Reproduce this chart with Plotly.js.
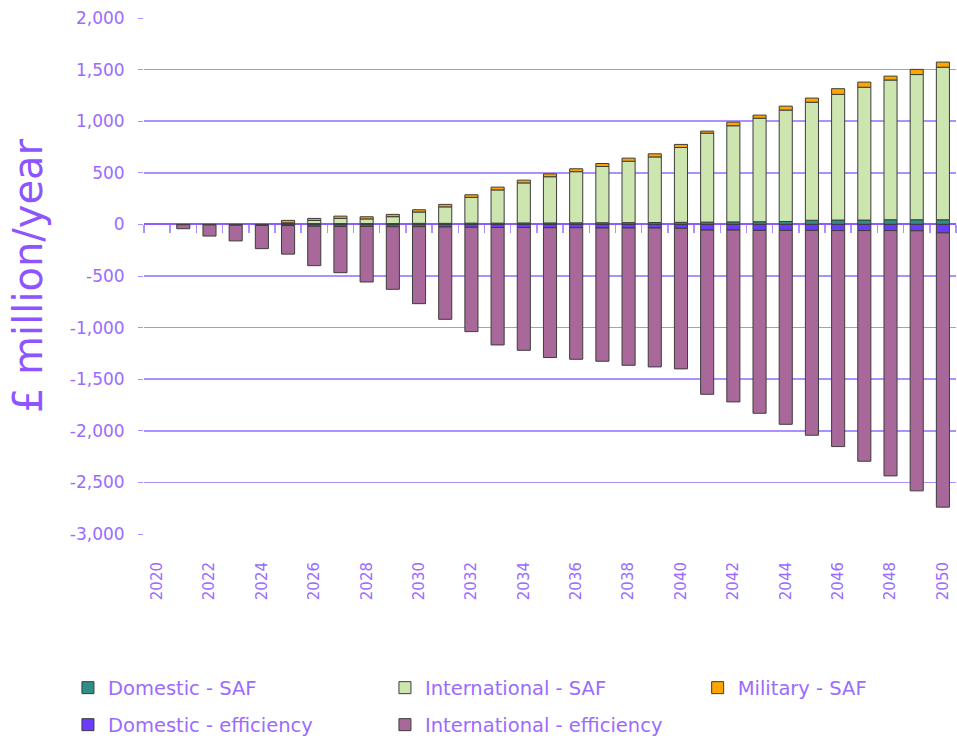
<!DOCTYPE html>
<html>
<head>
<meta charset="utf-8">
<script src="https://cdn.plot.ly/plotly-3.0.1.min.js"></script>
<style>html,body{margin:0;padding:0;background:#fff;}#chart{width:957px;height:740px;}</style>
</head>
<body>
<div id="chart"></div>
<script>
const years = [2020,2021,2022,2023,2024,2025,2026,2027,2028,2029,2030,2031,2032,2033,2034,2035,2036,2037,2038,2039,2040,2041,2042,2043,2044,2045,2046,2047,2048,2049,2050];
const domesticSAF = [null,null,null,null,null,10,8,8,8,8,10,10,12,12,14,14,15,16,17,18,20,22,24,26,28,40,42,42,45,45,45];
const internationalSAF = [null,null,null,null,null,5,30,50,45,67,110,160,250,322,388,448,496,545,595,636,725,862,932,1003,1080,1144,1218,1287,1354,1407,1478];
const militarySAF = [null,null,null,null,null,24,20,22,21,22,22,24,25,27,27,28,28,29,30,30,30,20,35,30,38,40,55,50,38,50,50];
const domesticEff = [null,-3,-5,-8,-10,-12,-18,-20,-20,-22,-22,-25,-28,-30,-30,-32,-32,-35,-35,-35,-38,-55,-55,-58,-58,-58,-60,-60,-60,-62,-82];
const internationalEff = [null,-39,-108,-152,-225,-276,-382,-448,-538,-607,-746,-895,-1011,-1138,-1190,-1258,-1275,-1291,-1330,-1346,-1362,-1591,-1665,-1772,-1879,-1985,-2093,-2235,-2377,-2520,-2658];
const seriesNames = ["Domestic - SAF","International - SAF","Military - SAF","Domestic - efficiency","International - efficiency"];
const xTickVals = [2020,2022,2024,2026,2028,2030,2032,2034,2036,2038,2040,2042,2044,2046,2048,2050];
const yTickVals = [-3000,-2500,-2000,-1500,-1000,-500,0,500,1000,1500,2000];
const yTickText = ["-3,000","-2,500","-2,000","-1,500","-1,000","-500","0","500","1,000","1,500","2,000"];
const boundaryTicks = [2019.5,2020.5,2021.5,2022.5,2023.5,2024.5,2025.5,2026.5,2027.5,2028.5,2029.5,2030.5,2031.5,2032.5,2033.5,2034.5,2035.5,2036.5,2037.5,2038.5,2039.5,2040.5,2041.5,2042.5,2043.5,2044.5,2045.5,2046.5,2047.5,2048.5,2049.5,2050.5];

const FONT = "DejaVu Sans, Lato, sans-serif";
const TXT = "#9a6bff";
const GRID = "#ab91ff";
const outline = {color: "#3d3d3d", width: 1};
const colors = ["#2f8f86","#cde6b0","#ffa500","#6a3cff","#a8689a"];
const values = [domesticSAF, internationalSAF, militarySAF, domesticEff, internationalEff];
const legendOf = ["legend","legend","legend3","legend2","legend2"];

const traces = values.map((v, i) => ({
  type: "bar",
  name: seriesNames[i],
  x: years,
  y: v,
  marker: {color: colors[i], line: outline},
  legend: legendOf[i],
  hoverinfo: "x+y+name"
}));
traces.push({
  type: "scatter", mode: "markers", x: [years[0]], y: [0],
  xaxis: "x2", yaxis: "y", marker: {opacity: 0}, showlegend: false, hoverinfo: "skip"
});

const legendCommon = {
  orientation: "h", xref: "container", yref: "container",
  xanchor: "left", yanchor: "middle", entrywidth: 272, entrywidthmode: "pixels",
  font: {family: FONT, size: 19.5, color: TXT}, bgcolor: "rgba(0,0,0,0)", traceorder: "normal",
  itemclick: false
};

const layout = {
  width: 957, height: 740,
  margin: {l: 144, r: 1, t: 18, b: 206},
  paper_bgcolor: "#ffffff", plot_bgcolor: "#ffffff",
  barmode: "relative", bargap: 0.5,
  font: {family: FONT, color: TXT},
  xaxis: {
    range: [2019.5, 2050.5], tickvals: xTickVals, ticktext: xTickVals.map(String),
    tickangle: -90, ticks: "", showgrid: false, zeroline: false, showline: false,
    ticklabelstandoff: 24, tickfont: {family: FONT, size: 15, color: TXT}
  },
  xaxis2: {
    overlaying: "x", anchor: "free", position: 0.6, side: "bottom",
    range: [2019.5, 2050.5], tickvals: boundaryTicks, showticklabels: false,
    ticks: "outside", ticklen: 8, tickwidth: 1.5, tickcolor: GRID,
    showgrid: false, zeroline: false, showline: false
  },
  yaxis: {
    range: [-3000, 2000], tickvals: yTickVals, ticktext: yTickText,
    showgrid: true, gridcolor: GRID, gridwidth: 1.5,
    zeroline: true, zerolinecolor: "#8d5cff", zerolinewidth: 2,
    ticks: "outside", ticklen: 5, tickcolor: GRID, showline: false,
    ticklabelstandoff: 10,
    tickfont: {family: FONT, size: 17, color: TXT},
    title: {text: "£ million/year", font: {family: FONT, size: 40, color: "#8c55ff"}, standoff: 14}
  },
  legend: Object.assign({}, legendCommon, {x: 0.071, y: 0.0703}),
  legend2: Object.assign({}, legendCommon, {x: 0.071, y: 0.0203}),
  legend3: Object.assign({}, legendCommon, {x: 0.729, y: 0.0703}),
  showlegend: true
};

Plotly.newPlot("chart", traces, layout, {displayModeBar: false, staticPlot: true});
</script>
</body>
</html>
